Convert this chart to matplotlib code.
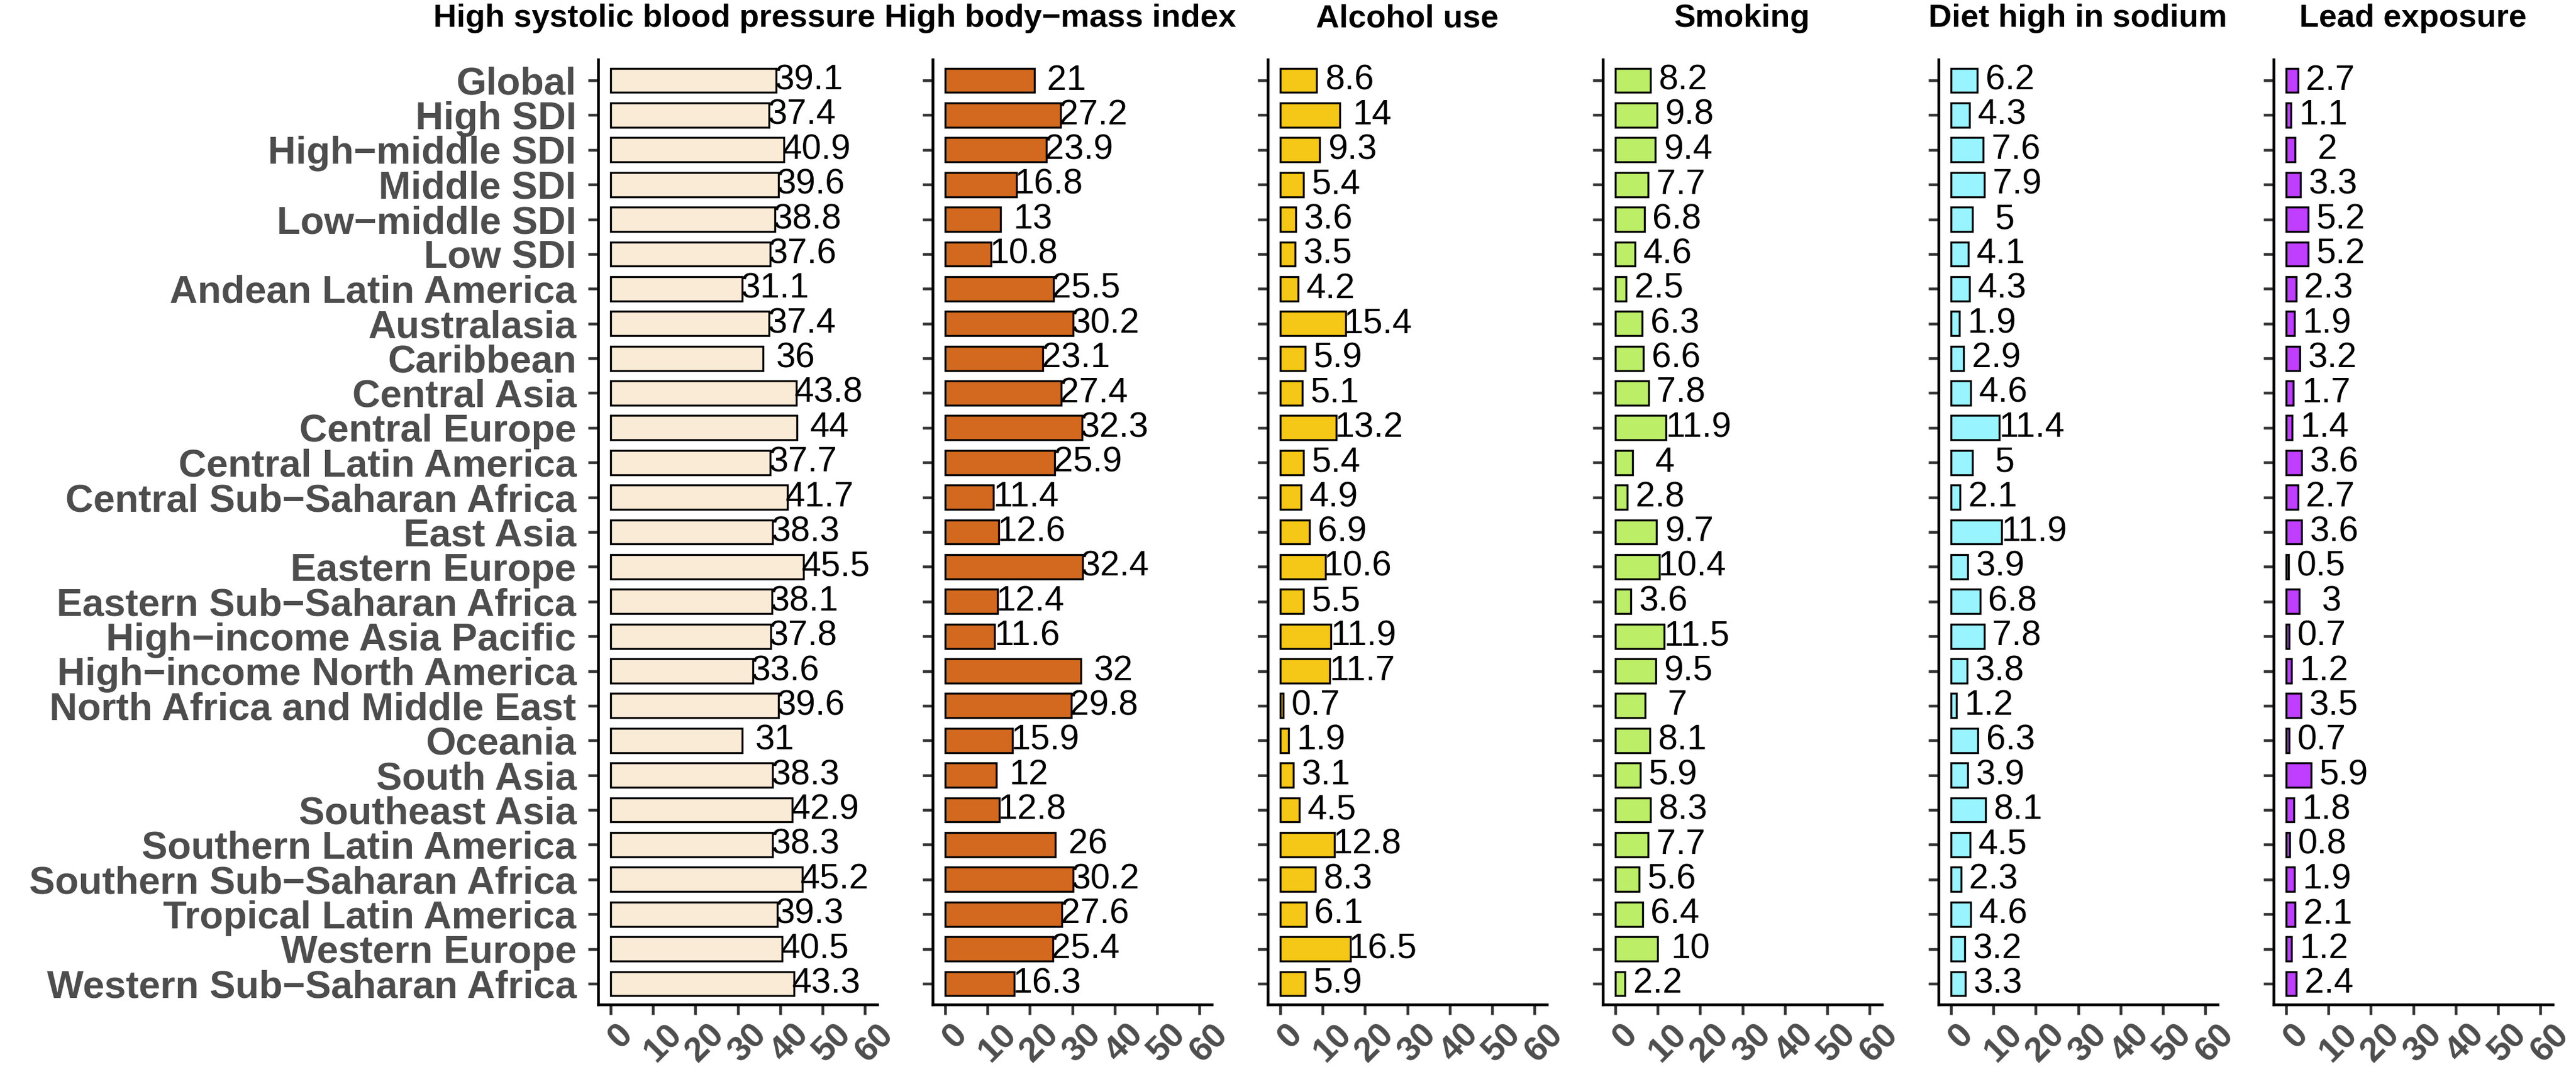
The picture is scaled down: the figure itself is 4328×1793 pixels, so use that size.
import matplotlib
matplotlib.use('Agg')
import matplotlib.pyplot as plt
from matplotlib.transforms import ScaledTranslation

plt.rcParams['font.family'] = ['Liberation Sans', 'DejaVu Sans']

M = '\u2212'
regions = ['Global', 'High SDI', f'High{M}middle SDI', 'Middle SDI', f'Low{M}middle SDI',
           'Low SDI', 'Andean Latin America', 'Australasia', 'Caribbean', 'Central Asia',
           'Central Europe', 'Central Latin America', f'Central Sub{M}Saharan Africa',
           'East Asia', 'Eastern Europe', f'Eastern Sub{M}Saharan Africa',
           f'High{M}income Asia Pacific', f'High{M}income North America',
           'North Africa and Middle East', 'Oceania', 'South Asia', 'Southeast Asia',
           'Southern Latin America', f'Southern Sub{M}Saharan Africa',
           'Tropical Latin America', 'Western Europe', f'Western Sub{M}Saharan Africa']

sbp = [39.1, 37.4, 40.9, 39.6, 38.8, 37.6, 31.1, 37.4, 36, 43.8, 44, 37.7, 41.7, 38.3,
       45.5, 38.1, 37.8, 33.6, 39.6, 31, 38.3, 42.9, 38.3, 45.2, 39.3, 40.5, 43.3]
bmi = [21, 27.2, 23.9, 16.8, 13, 10.8, 25.5, 30.2, 23.1, 27.4, 32.3, 25.9, 11.4, 12.6,
       32.4, 12.4, 11.6, 32, 29.8, 15.9, 12, 12.8, 26, 30.2, 27.6, 25.4, 16.3]
alcohol = [8.6, 14, 9.3, 5.4, 3.6, 3.5, 4.2, 15.4, 5.9, 5.1, 13.2, 5.4, 4.9, 6.9, 10.6,
           5.5, 11.9, 11.7, 0.7, 1.9, 3.1, 4.5, 12.8, 8.3, 6.1, 16.5, 5.9]
smoking = [8.2, 9.8, 9.4, 7.7, 6.8, 4.6, 2.5, 6.3, 6.6, 7.8, 11.9, 4, 2.8, 9.7, 10.4,
           3.6, 11.5, 9.5, 7, 8.1, 5.9, 8.3, 7.7, 5.6, 6.4, 10, 2.2]
sodium = [6.2, 4.3, 7.6, 7.9, 5, 4.1, 4.3, 1.9, 2.9, 4.6, 11.4, 5, 2.1, 11.9, 3.9, 6.8,
          7.8, 3.8, 1.2, 6.3, 3.9, 8.1, 4.5, 2.3, 4.6, 3.2, 3.3]
lead = [2.7, 1.1, 2, 3.3, 5.2, 5.2, 2.3, 1.9, 3.2, 1.7, 1.4, 3.6, 2.7, 3.6, 0.5, 3, 0.7,
        1.2, 3.5, 0.7, 5.9, 1.8, 0.8, 1.9, 2.1, 1.2, 2.4]

titles = ['High systolic blood pressure', f'High body{M}mass index', 'Alcohol use',
          'Smoking', 'Diet high in sodium', 'Lead exposure']
series = [sbp, bmi, alcohol, smoking, sodium, lead]
colors = ['#FAEBD7', '#D2691E', '#F5C716', '#BCEE68', '#98F5FF', '#BF3EFF']
xticks = [0, 10, 20, 30, 40, 50, 60]

W, H = 4328, 1793
fig = plt.figure(figsize=(W / 300, H / 300), dpi=300)

lefts = [1005, 1567, 2130, 2693, 3257, 3820]
title_x = [1099, 1781, 2364, 2927, 3491, 4054]
gray = '#4D4D4D'

for k in range(6):
    ax = fig.add_axes([lefts[k] / W, 1 - 1688 / H, 469 / W, 1588 / H])
    vals = series[k]
    ypos = list(range(len(regions)))
    ax.barh(ypos, vals, height=0.7, color=colors[k], edgecolor='black', linewidth=0.8)
    for i, v in enumerate(vals):
        ax.text(v + 7.7, i, f'{v:g}', ha='center', va='center', fontsize=14.2)

    ax.set_xlim(-3, 63)
    ax.set_ylim(26.6, -0.6)
    ax.set_yticks(ypos)
    if k == 0:
        ax.set_yticklabels(regions, fontsize=15.6, fontweight='bold', color=gray)
    else:
        ax.set_yticklabels([])
    ax.set_xticks(xticks)
    ax.set_xticklabels([str(t) for t in xticks], rotation=45, ha='center', va='top',
                       fontsize=14, fontweight='bold', color=gray)
    ax.tick_params(axis='both', color='#333333', width=1.1, length=4)
    ax.tick_params(axis='y', pad=4.8)
    ax.tick_params(axis='x', pad=1.5)
    off = ScaledTranslation(17 / 300, 0, fig.dpi_scale_trans)
    for lab in ax.xaxis.get_majorticklabels():
        lab.set_transform(lab.get_transform() + off)

    for s in ['top', 'right']:
        ax.spines[s].set_visible(False)
    for s in ['left', 'bottom']:
        ax.spines[s].set_linewidth(1.1)
        ax.spines[s].set_color('black')

    fig.text(title_x[k] / W, 1 - 45 / H, titles[k], ha='center', va='baseline',
             fontsize=13, fontweight='bold')

fig.savefig('out.png', dpi=300)
